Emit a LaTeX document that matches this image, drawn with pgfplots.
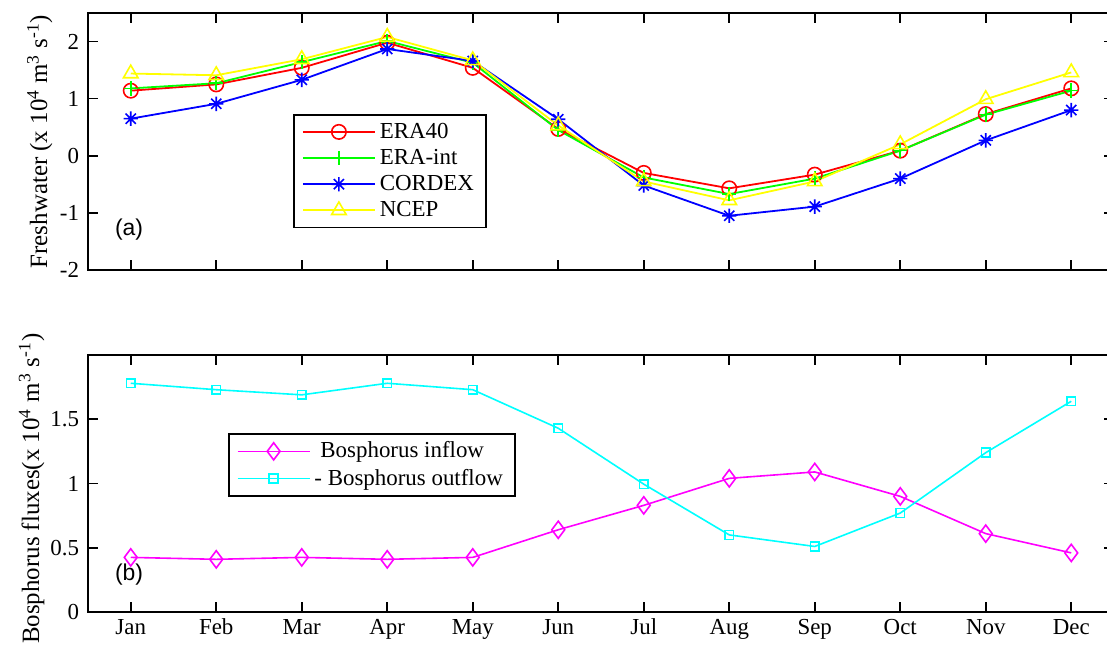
\documentclass[border=0pt]{standalone}
\usepackage{fontspec}
\setmainfont{Liberation Serif}
\newfontfamily\helv{Liberation Sans}
\usepackage{pgfplots}
\pgfplotsset{compat=1.18}
\usetikzlibrary{calc}

% pure RGB line colours
\definecolor{mred}{rgb}{1,0,0}
\definecolor{mgreen}{rgb}{0,1,0}
\definecolor{mblue}{rgb}{0,0,1}
\definecolor{myellow}{rgb}{1,1,0}
\definecolor{mmagenta}{rgb}{1,0,1}
\definecolor{mcyan}{rgb}{0,1,1}

% MATLAB-style asterisk: a plus and a cross on top of each other
\pgfdeclareplotmark{matstar}{%
  \pgfpathmoveto{\pgfqpoint{-\pgfplotmarksize}{0pt}}%
  \pgfpathlineto{\pgfqpoint{\pgfplotmarksize}{0pt}}%
  \pgfpathmoveto{\pgfqpoint{0pt}{-\pgfplotmarksize}}%
  \pgfpathlineto{\pgfqpoint{0pt}{\pgfplotmarksize}}%
  \pgfpathmoveto{\pgfqpoint{-0.707\pgfplotmarksize}{-0.707\pgfplotmarksize}}%
  \pgfpathlineto{\pgfqpoint{0.707\pgfplotmarksize}{0.707\pgfplotmarksize}}%
  \pgfpathmoveto{\pgfqpoint{-0.707\pgfplotmarksize}{0.707\pgfplotmarksize}}%
  \pgfpathlineto{\pgfqpoint{0.707\pgfplotmarksize}{-0.707\pgfplotmarksize}}%
  \pgfusepathqstroke}

\newcommand{\lfont}{\fontsize{11.5}{13}\selectfont}
\newcommand{\yfont}{\fontsize{12.5}{14}\selectfont}

\pgfplotsset{
  panel/.style={
    width=513bp, height=128.5bp, scale only axis,
    xmin=0.5, xmax=12.5, xtick={1,...,12},
    tick align=inside, major tick length=5bp,
    axis line style={line width=0.8bp},
    every tick/.style={black, line width=0.8bp},
    tick label style={font=\lfont},
    yticklabel style={xshift=-1bp},
    /pgf/number format/assume math mode=true,
    label style={font=\yfont},
    legend style={draw=black, line width=0.8bp, font=\lfont,
      cells={anchor=west}, inner xsep=4bp, inner ysep=2bp},
    legend image code/.code={%
      \draw[mark repeat=2,mark phase=2] plot coordinates
        {(0bp,0bp) (18bp,0bp) (36bp,0bp)};},
  },
}

\begin{document}
\begin{tikzpicture}
% (a) freshwater flux
\begin{axis}[panel, name=pa,
  ymin=-2, ymax=2.5, ytick={-2,-1,0,1,2},
  xticklabels={},
  ylabel={Freshwater (x 10\textsuperscript{4} m\textsuperscript{3} s\textsuperscript{-1})},
  ylabel style={at={(axis description cs:-0.047,0.5)}, anchor=center},
  legend style={at={(0.2,0.607)}, anchor=north west},
]
\addplot[mred, line width=0.9bp, mark=o, mark size=3.6bp, mark options={line width=0.8bp}]
  coordinates {(1,1.14) (2,1.25) (3,1.54) (4,1.98) (5,1.54) (6,0.47)
               (7,-0.30) (8,-0.57) (9,-0.33) (10,0.09) (11,0.73) (12,1.18)};
\addlegendentry{ERA40}
\addplot[mgreen, line width=0.9bp, mark=+, mark size=3.6bp, mark options={line width=0.8bp}]
  coordinates {(1,1.18) (2,1.27) (3,1.64) (4,2.01) (5,1.63) (6,0.45)
               (7,-0.38) (8,-0.67) (9,-0.40) (10,0.09) (11,0.72) (12,1.14)};
\addlegendentry{ERA-int}
\addplot[mblue, line width=0.9bp, mark=matstar, mark size=3.6bp, mark options={line width=0.8bp}]
  coordinates {(1,0.65) (2,0.91) (3,1.33) (4,1.87) (5,1.66) (6,0.64)
               (7,-0.52) (8,-1.05) (9,-0.89) (10,-0.40) (11,0.27) (12,0.80)};
\addlegendentry{CORDEX}
\addplot[myellow, line width=0.9bp, mark=triangle, mark size=4.2bp, mark options={line width=0.8bp}]
  coordinates {(1,1.44) (2,1.41) (3,1.69) (4,2.08) (5,1.67) (6,0.53)
               (7,-0.45) (8,-0.78) (9,-0.45) (10,0.20) (11,0.99) (12,1.46)};
\addlegendentry{NCEP}
\node[font=\helv\lfont] at (axis description cs:0.04,0.156) {(a)};
\end{axis}

% (b) Bosphorus fluxes
\begin{axis}[panel, name=pb,
  at={($(pa.south west)+(0,-42.5bp)$)}, anchor=north west,
  ymin=0, ymax=2, ytick={0,0.5,1,1.5},
  xticklabels={Jan,Feb,Mar,Apr,May,Jun,Jul,Aug,Sep,Oct,Nov,Dec},
  ylabel={Bosphorus fluxes(x 10\textsuperscript{4} m\textsuperscript{3} s\textsuperscript{-1})},
  ylabel style={at={(axis description cs:-0.055,0.48)}, anchor=center},
  legend style={at={(0.1365,0.6965)}, anchor=north west},
]
\addplot[mmagenta, line width=0.8bp, mark=diamond, mark size=4.3bp, mark options={line width=0.8bp}]
  coordinates {(1,0.425) (2,0.41) (3,0.425) (4,0.41) (5,0.425) (6,0.64)
               (7,0.83) (8,1.04) (9,1.09) (10,0.90) (11,0.61) (12,0.46)};
\addlegendentry{\hspace{3bp}Bosphorus inflow}
\addplot[mcyan, line width=0.8bp, mark=square, mark size=2.2bp, mark options={line width=0.8bp}]
  coordinates {(1,1.78) (2,1.73) (3,1.69) (4,1.78) (5,1.73) (6,1.43)
               (7,0.995) (8,0.60) (9,0.51) (10,0.77) (11,1.24) (12,1.64)};
\addlegendentry{- Bosphorus outflow}
\node[font=\helv\lfont] at (axis description cs:0.04,0.144) {(b)};
\end{axis}

\pgfresetboundingbox
\path[use as bounding box]
  ($(pa.north west)+(-44bp,6.5bp)$) rectangle ($(pb.south west)+(509.5bp,-19bp)$);
\end{tikzpicture}
\end{document}
